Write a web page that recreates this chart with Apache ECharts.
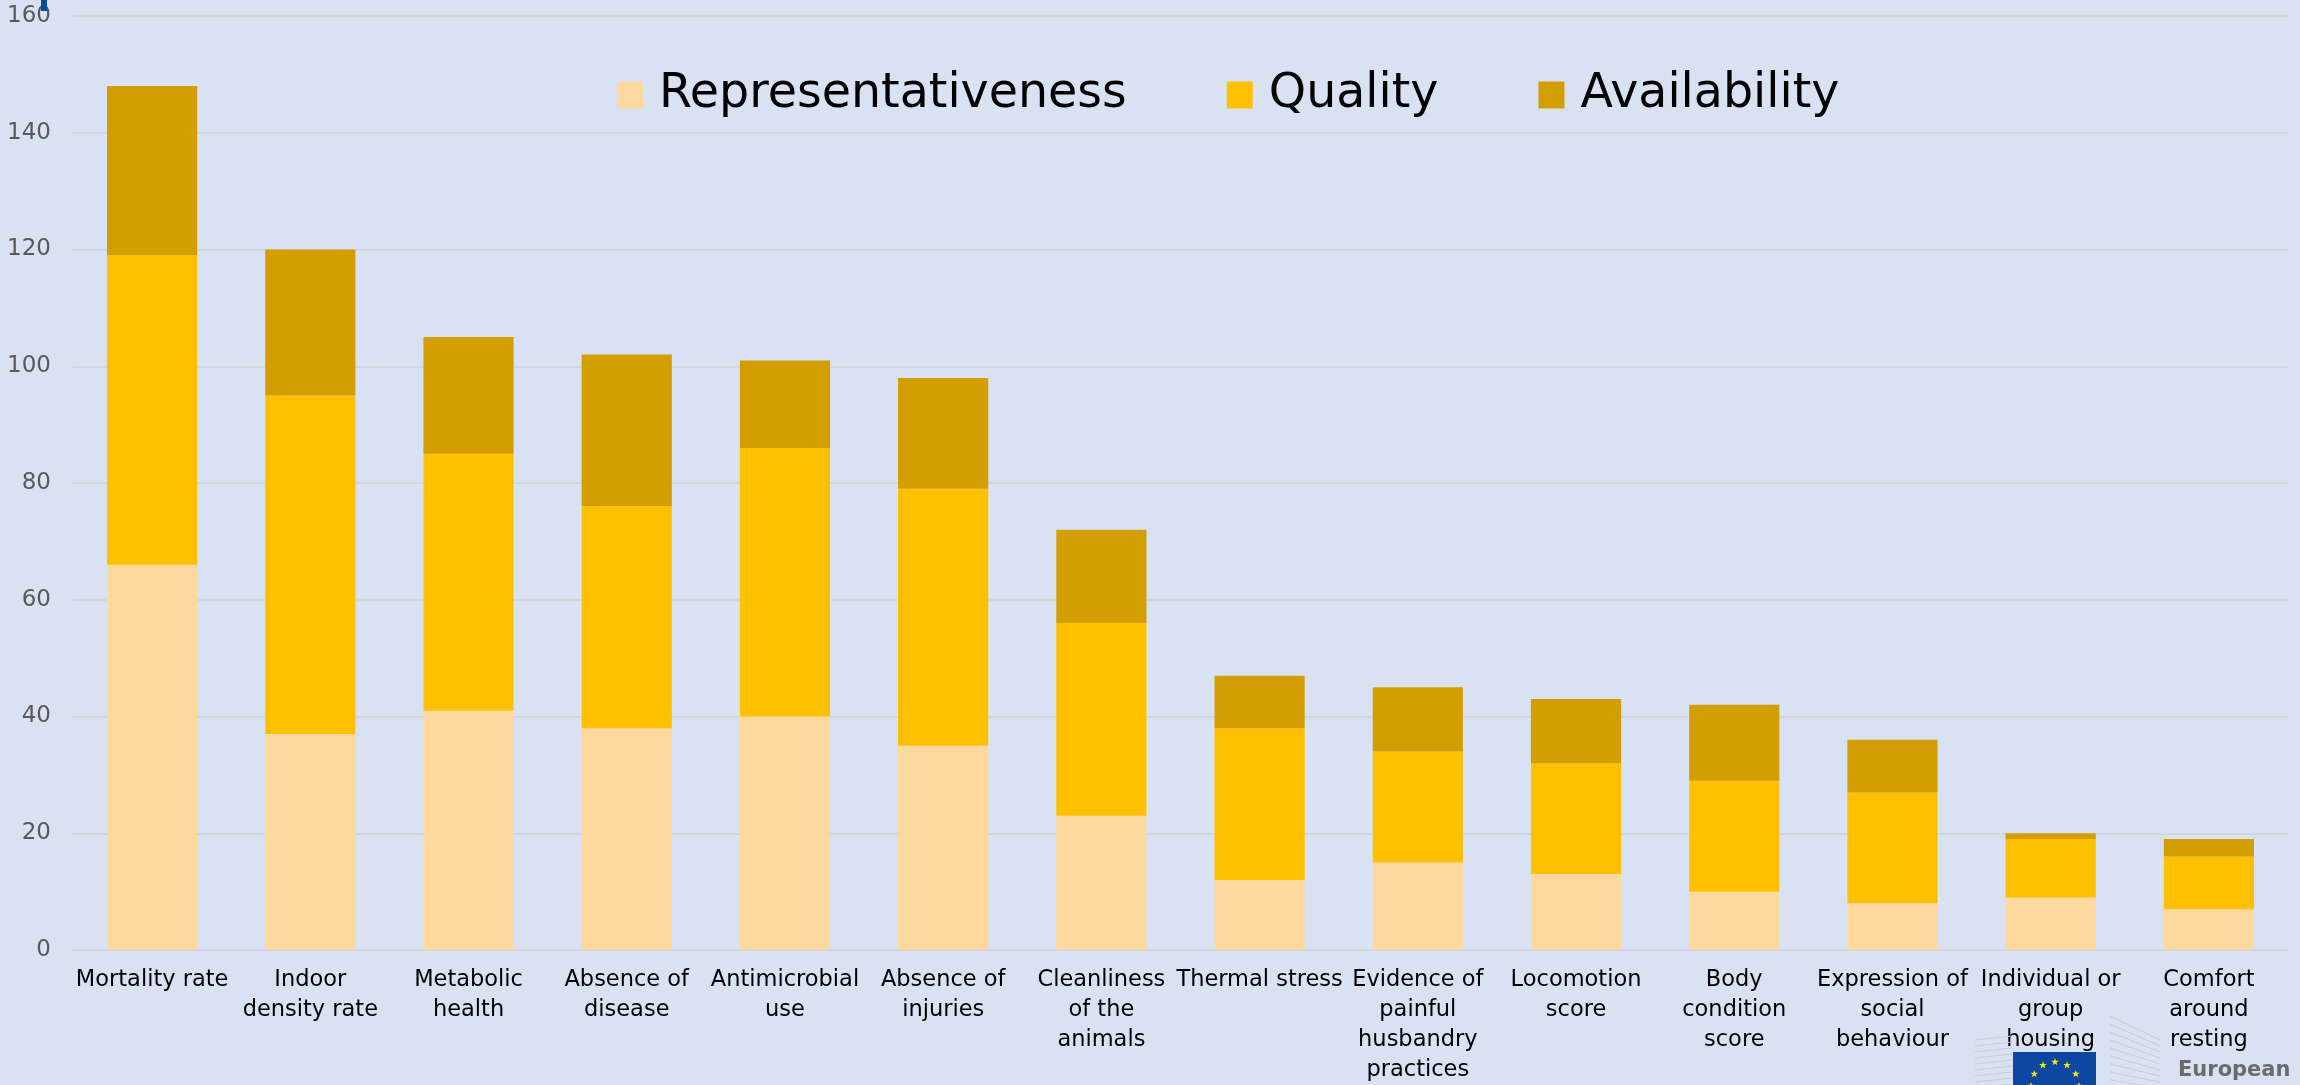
<!DOCTYPE html>
<html>
<head>
<meta charset="utf-8">
<script src="https://cdn.jsdelivr.net/npm/echarts@6/dist/echarts.min.js"></script>
<style>
html,body{margin:0;padding:0;background:#D9E2F3;}
#c{width:2300px;height:1085px;}
</style>
</head>
<body>
<div id="c"></div>
<script>
const categories = [
  "Mortality rate", "Indoor\ndensity rate", "Metabolic\nhealth", "Absence of\ndisease",
  "Antimicrobial\nuse", "Absence of\ninjuries", "Cleanliness\nof the\nanimals", "Thermal stress",
  "Evidence of\npainful\nhusbandry\npractices", "Locomotion\nscore", "Body\ncondition\nscore",
  "Expression of\nsocial\nbehaviour", "Individual or\ngroup\nhousing", "Comfort\naround\nresting"
];
const representativeness = [66, 37, 41, 38, 40, 35, 23, 12, 15, 13, 10, 8, 9, 7];
const quality            = [53, 58, 44, 38, 46, 44, 33, 26, 19, 19, 19, 19, 10, 9];
const availability       = [29, 25, 20, 26, 15, 19, 16, 9, 11, 11, 13, 9, 1, 3];
const yTicks = { min: 0, max: 160, interval: 20 };

const chart = echarts.init(document.getElementById('c'), null, {renderer: 'canvas'});

const stars = [];
for (let i = 0; i < 12; i++) {
  const a = Math.PI * 2 * i / 12;
  stars.push({
    type: 'polygon',
    shape: { points: (function(){ const pts=[]; for(let k=0;k<10;k++){const r=k%2?1.6:4; const t=-Math.PI/2+k*Math.PI/5; pts.push([Math.cos(t)*r, Math.sin(t)*r]);} return pts; })() },
    x: 2055 + Math.cos(a) * 24, y: 1086 + Math.sin(a) * 24,
    style: { fill: '#FFE600' }, z: 12
  });
}
const bLines = [];
for (let i = 0; i < 9; i++) {
  bLines.push({ type: 'line', shape: { x1: 1975, y1: 1040 + i * 6, x2: 2012, y2: 1036 + i * 6 }, style: { stroke: '#C9CCD2', lineWidth: 1 }, z: 10 });
  bLines.push({ type: 'line', shape: { x1: 2110, y1: 1016 + i * 8, x2: 2160, y2: 1040 + i * 6 }, style: { stroke: '#C9CCD2', lineWidth: 1 }, z: 10 });
}

const option = {
  backgroundColor: '#D9E2F3',
  animation: false,
  color: ['#FDD9A0', '#FFC000', '#D39F00'],
  legend: {
    data: ['Representativeness', 'Quality', 'Availability'],
    left: 617, top: 70, padding: 0,
    itemWidth: 26, itemHeight: 27, itemGap: 100,
    icon: 'rect',
    textStyle: { fontFamily: 'DejaVu Sans', fontSize: 47.5, lineHeight: 50, color: '#000', padding: [0, 0, 0, 11] }
  },
  grid: { left: 73, right: 12, top: 16, bottom: 134, containLabel: false },
  xAxis: {
    type: 'category',
    data: categories,
    axisLine: { lineStyle: { color: '#D4D6DC', width: 2 } },
    axisTick: { show: false },
    axisLabel: {
      interval: 0, margin: 15, color: '#000',
      fontFamily: 'DejaVu Sans', fontSize: 22.5, lineHeight: 30, align: 'center'
    }
  },
  yAxis: {
    type: 'value',
    min: yTicks.min, max: yTicks.max, interval: yTicks.interval,
    axisLine: { show: false }, axisTick: { show: false },
    splitLine: { lineStyle: { color: '#D4D6DC', width: 2 } },
    axisLabel: { margin: 22, color: '#595959', fontFamily: 'DejaVu Sans', fontSize: 23 }
  },
  series: [
    { name: 'Representativeness', type: 'bar', stack: 's', data: representativeness, barWidth: '57%' },
    { name: 'Quality', type: 'bar', stack: 's', data: quality, barWidth: '57%' },
    { name: 'Availability', type: 'bar', stack: 's', data: availability, barWidth: '57%' }
  ],
  graphic: [
    { type: 'rect', shape: { x: 41, y: 0, width: 6, height: 11 }, style: { fill: '#0E4A9A' }, z: 10 },
    { type: 'rect', shape: { x: 2013, y: 1052, width: 83, height: 40 }, style: { fill: '#0E47A1' }, z: 11 },
    ...stars,
    ...bLines,
    { type: 'text', x: 2178, y: 1060, style: { text: 'European', fill: '#6B6B6B', fontFamily: 'DejaVu Sans', fontWeight: 'bold', fontSize: 21 }, z: 12 }
  ]
};
chart.setOption(option);
</script>
</body>
</html>
